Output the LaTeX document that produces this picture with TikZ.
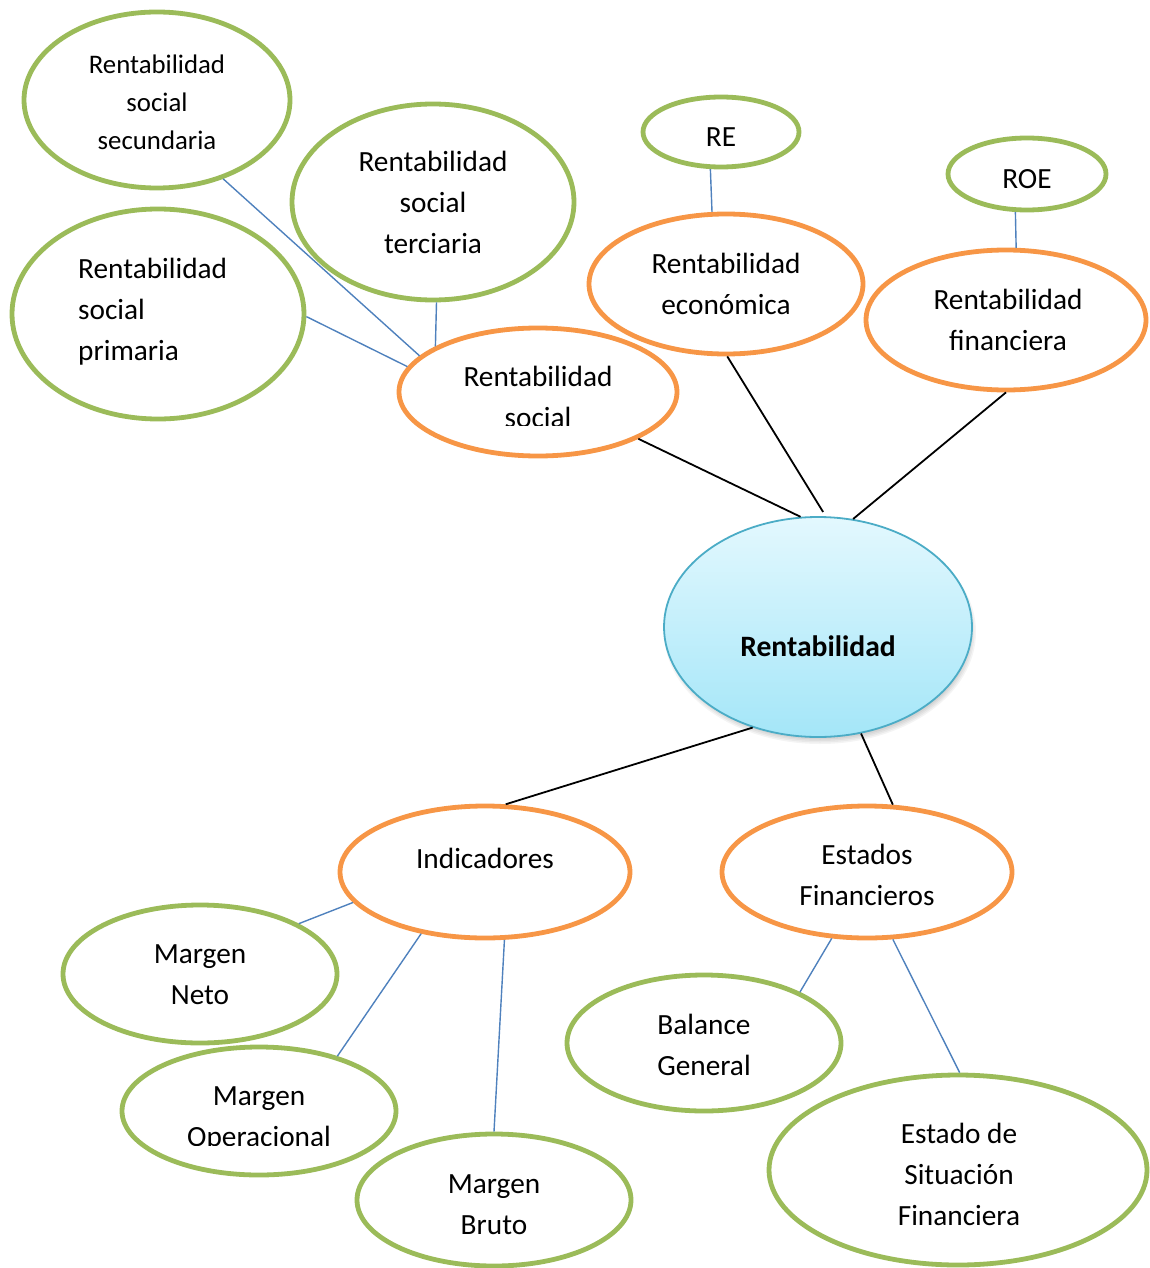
\documentclass[tikz,border=0pt]{standalone}
\usepackage{fontspec}
\setmainfont{Carlito}
\usetikzlibrary{shapes.geometric}

\definecolor{orangeline}{HTML}{F79646}
\definecolor{greenline}{HTML}{9BBB59}
\definecolor{blueline}{HTML}{4F81BD}
\definecolor{hubline}{HTML}{4BACC6}
\definecolor{hubtop}{HTML}{E3F8FE}
\definecolor{hubbottom}{HTML}{A4E6F8}

\tikzset{
  bubble/.style={ellipse, fill=white, line width=4.8pt, inner sep=0pt},
  obub/.style={bubble, draw=orangeline},
  gbub/.style={bubble, draw=greenline},
  hub/.style={ellipse, draw=hubline, line width=1.8pt, inner sep=0pt,
    top color=hubtop, bottom color=hubbottom},
  hubshade/.style={fill=black, opacity=0.045},
  lbl/.style={inner sep=0pt, align=center, font=\fontsize{29.3}{41}\selectfont},
  lblsmall/.style={lbl, font=\fontsize{26.8}{38}\selectfont},
  mainlink/.style={draw=black, line width=1.8pt},
  sublink/.style={draw=blueline, line width=1.4pt},
}

\begin{document}
\begin{tikzpicture}[x=1pt,y=-1pt]
\useasboundingbox (0,0) rectangle (1150,1268);
\clip (0,0) rectangle (1150,1268);

% soft shadow under the central concept
\foreach \g in {0,1.5,3,4.5,6}{
  \fill[hubshade] (820,632) ellipse [x radius=150+\g, y radius=106+\g];
}

% central concept
\node[hub, minimum width=308, minimum height=220] (ctr) at (818,627) {};

% first ring
\node[obub, minimum width=278, minimum height=128] (soc) at (538,392) {};
\node[obub, minimum width=274, minimum height=140] (eco) at (726,284) {};
\node[obub, minimum width=280, minimum height=140] (fin) at (1006,320) {};
\node[obub, minimum width=290, minimum height=132] (ind) at (485,872) {};
\node[obub, minimum width=290, minimum height=132] (est) at (867,872) {};

% leaves
\node[gbub, minimum width=266, minimum height=176] (sec) at (157,100) {};
\node[gbub, minimum width=282, minimum height=196] (ter) at (433,202) {};
\node[gbub, minimum width=292, minimum height=210] (pri) at (158,314) {};
\node[gbub, minimum width=156, minimum height=70] (re) at (721,132) {};
\node[gbub, minimum width=158, minimum height=72] (roe) at (1027,174) {};
\node[gbub, minimum width=274, minimum height=138] (neto) at (200,974) {};
\node[gbub, minimum width=274, minimum height=128] (oper) at (259,1111) {};
\node[gbub, minimum width=274, minimum height=132] (bruto) at (494,1200) {};
\node[gbub, minimum width=274, minimum height=136] (bal) at (704,1043) {};
\node[gbub, minimum width=378, minimum height=190] (sit) at (958,1170) {};

% labels
\node[lbl, font=\bfseries\fontsize{29.6}{41}\selectfont] (tctr) at (818,646) {Rentabilidad};
\begin{scope}
  \clip (440,350) rectangle (640,425);
  \node[lbl] (tsoc) at (538,398.5) {\strut Rentabilidad\\social\strut};
\end{scope}
\node[lbl] (teco) at (726,286) {\strut Rentabilidad\\económica\strut};
\node[lbl] (tfin) at (1008,322) {\strut Rentabilidad\\financiera\strut};
\node[lbl] (tind) at (485,858) {Indicadores};
\node[lbl] (test) at (867,876.5) {\strut Estados\\Financieros\strut};
\node[lblsmall] (tsec) at (157,104) {\strut Rentabilidad\\social\\secundaria\strut};
\node[lbl] (tter) at (433,204.5) {\strut Rentabilidad\\social\\terciaria\strut};
\node[lbl, align=left, anchor=west] (tpri) at (78,311) {\strut Rentabilidad\\social\\primaria\strut};
\node[lbl] (tre) at (721,137) {RE};
\node[lbl] (troe) at (1027,179) {ROE};
\node[lbl] (tneto) at (200,975.5) {\strut Margen\\Neto\strut};
\begin{scope}
  \clip (140,1060) rectangle (380,1145);
  \node[lbl] (toper) at (259,1117.5) {\strut Margen\\Operacional\strut};
\end{scope}
\node[lbl] (tbruto) at (494,1205.5) {\strut Margen\\Bruto\strut};
\node[lbl] (tbal) at (704,1046.5) {\strut Balance\\General\strut};
\node[lbl] (tsit) at (959,1176) {\strut Estado de\\Situación\\Financiera\strut};

% links to the central concept
\draw[mainlink] (soc.-25) -- (ctr.99);
\draw[mainlink, shorten >=5pt] (eco.-89) -- (ctr.86);
\draw[mainlink] (fin.-90) -- (ctr.72);
\draw[mainlink] (ctr.-123) -- (ind.73);
\draw[mainlink] (ctr.-68) -- (est.69);

% links to the leaves
\draw[sublink] (sec.-50) -- (soc.163);
\draw[sublink] (ter.-88) -- (soc.156);
\draw[sublink] (pri.-1) -- (soc.169);
\draw[sublink] (re.-106) -- (eco.101);
\draw[sublink] (roe.-107) -- (fin.82);
\draw[sublink] (ind.-167) -- (neto.27);
\draw[sublink] (ind.-136) -- (oper.35);
\draw[sublink] (ind.-74) -- (bruto.90);
\draw[sublink] (est.-118) -- (bal.28);
\draw[sublink] (est.-69) -- (sit.89);
\end{tikzpicture}
\end{document}
